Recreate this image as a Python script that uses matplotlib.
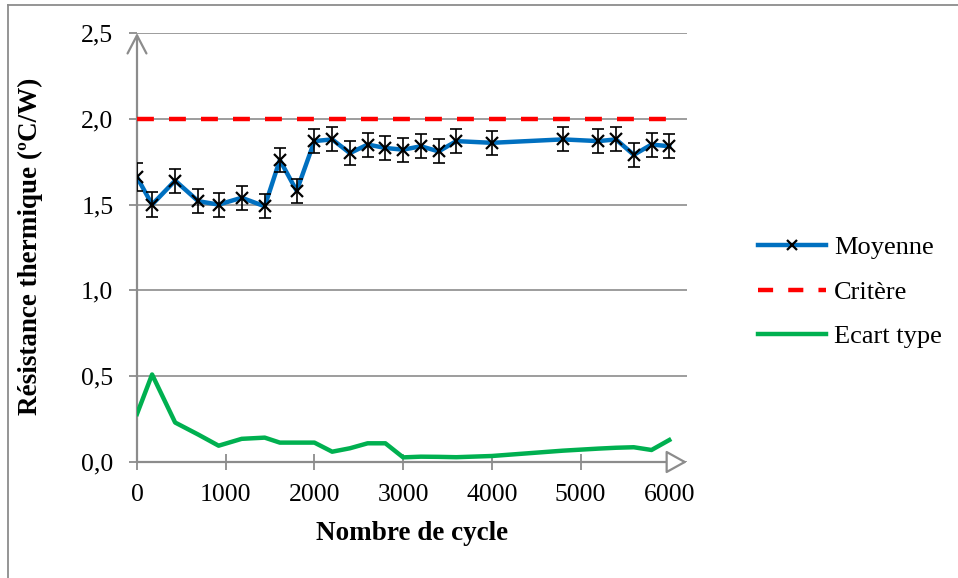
import matplotlib.pyplot as plt
import numpy as np
from matplotlib.lines import Line2D

plt.rcParams['font.family'] = ['Liberation Serif', 'DejaVu Serif']

# Cycles mesurés et résistance thermique moyenne (ºC/W)
cycles = [0, 170, 430, 690, 920, 1180, 1440, 1610, 1800, 2000, 2200, 2400,
          2600, 2800, 3000, 3200, 3400, 3600, 4000, 4800, 5200, 5400, 5600,
          5800, 6000]
moyenne = [1.66, 1.50, 1.64, 1.52, 1.50, 1.54, 1.49, 1.76, 1.58, 1.87,
           1.88, 1.80, 1.85, 1.83, 1.82, 1.84, 1.81, 1.87, 1.86, 1.88,
           1.87, 1.88, 1.79, 1.85, 1.84]
erreur = [0.08, 0.075, 0.07, 0.07, 0.07, 0.07, 0.07, 0.07, 0.07, 0.07,
          0.07, 0.07, 0.07, 0.07, 0.07, 0.07, 0.07, 0.07, 0.07, 0.07,
          0.07, 0.07, 0.07, 0.07, 0.07]
ecart_type = [0.28, 0.51, 0.23, 0.16, 0.095, 0.135, 0.142, 0.113, 0.113,
              0.113, 0.06, 0.08, 0.109, 0.109, 0.027, 0.031, 0.03, 0.028,
              0.035, 0.066, 0.078, 0.083, 0.086, 0.07, 0.128]
critere_x = [0, 6000]
critere_y = [2.0, 2.0]

x_ticks = [0, 1000, 2000, 3000, 4000, 5000, 6000]
y_ticks = [0.0, 0.5, 1.0, 1.5, 2.0, 2.5]
y_tick_labels = ['0,0', '0,5', '1,0', '1,5', '2,0', '2,5']

bleu = '#0070C0'
rouge = '#FF0000'
vert = '#00B050'
gris = '#8C8C8C'

fig = plt.figure(figsize=(9.58, 5.78), dpi=100)
ax = fig.add_axes([137 / 958, 1 - 462 / 578, 550 / 958, 429 / 578])

ax.set_xlim(0, 6200)
ax.set_ylim(0, 2.5)
for s in ax.spines.values():
    s.set_visible(False)

ax.set_yticks(y_ticks)
ax.set_yticklabels(y_tick_labels)
ax.set_xticks(x_ticks)
ax.tick_params(axis='y', length=6, width=1.3, color=gris, pad=11,
               labelsize=18.5)
ax.tick_params(axis='x', direction='inout', length=11, width=1.3, color=gris,
               pad=10, labelsize=18.5)
ax.grid(axis='y', color=gris, lw=1.2, zorder=0)
ax.set_axisbelow(True)

# axes avec flèches
ax.annotate('', xy=(0, 1), xycoords='axes fraction', xytext=(0, 0),
            arrowprops=dict(arrowstyle='->,head_length=0.65,head_width=0.34',
                            color=gris, lw=1.6, shrinkA=0, shrinkB=0,
                            mutation_scale=20),
            annotation_clip=False)
ax.annotate('', xy=(1, 0), xycoords='axes fraction', xytext=(0, 0),
            arrowprops=dict(arrowstyle='-|>,head_length=0.65,head_width=0.36',
                            color=gris, fc='white', lw=1.6, shrinkA=0,
                            shrinkB=0, mutation_scale=20),
            annotation_clip=False)

ax.plot(critere_x, critere_y, color=rouge, lw=3.2, dashes=(3.8, 3.4),
        dash_capstyle='butt', zorder=3)
ax.plot(cycles, ecart_type, color=vert, lw=3.2, solid_joinstyle='round',
        zorder=3)
ax.plot(cycles, moyenne, color=bleu, lw=3.2, solid_joinstyle='round',
        zorder=3)
ax.errorbar(cycles, moyenne, yerr=erreur, fmt='none', ecolor='black',
            elinewidth=1.2, capsize=4, capthick=1.2, zorder=4)
ax.plot(cycles, moyenne, ls='none', marker='x', ms=8, mew=1.6, color='black',
        zorder=5)

fig.text(30 / 958, 1 - 246 / 578, 'Résistance thermique (ºC/W)', rotation=90,
         ha='center', va='center', fontsize=19.5, fontweight='bold')
fig.text(412 / 958, 1 - 534 / 578, 'Nombre de cycle', ha='center',
         va='center', fontsize=19.5, fontweight='bold')

handles = [
    Line2D([], [], color=bleu, lw=3.2, marker='x', ms=7, mew=1.6,
           mec='black'),
    Line2D([], [], color=rouge, lw=3.2, dashes=(3.4, 3.4)),
    Line2D([], [], color=vert, lw=3.2),
]
labels = ['Moyenne', 'Critère', 'Ecart type']
ax.legend(handles, labels, loc='center left', frameon=False, fontsize=19,
          bbox_to_anchor=(734 / 958, 1 - 292 / 578),
          bbox_transform=fig.transFigure, handlelength=2.6,
          handletextpad=0.28, labelspacing=0.8, borderpad=0.4)

# cadre de la zone du graphique
fig.add_artist(Line2D([8 / 958, 8 / 958], [0, 1 - 4.5 / 578], color=gris,
                      lw=1.3, transform=fig.transFigure))
fig.add_artist(Line2D([8 / 958, 1], [1 - 4.5 / 578, 1 - 4.5 / 578],
                      color=gris, lw=1.3, transform=fig.transFigure))

fig.savefig('out.png', dpi=100)
